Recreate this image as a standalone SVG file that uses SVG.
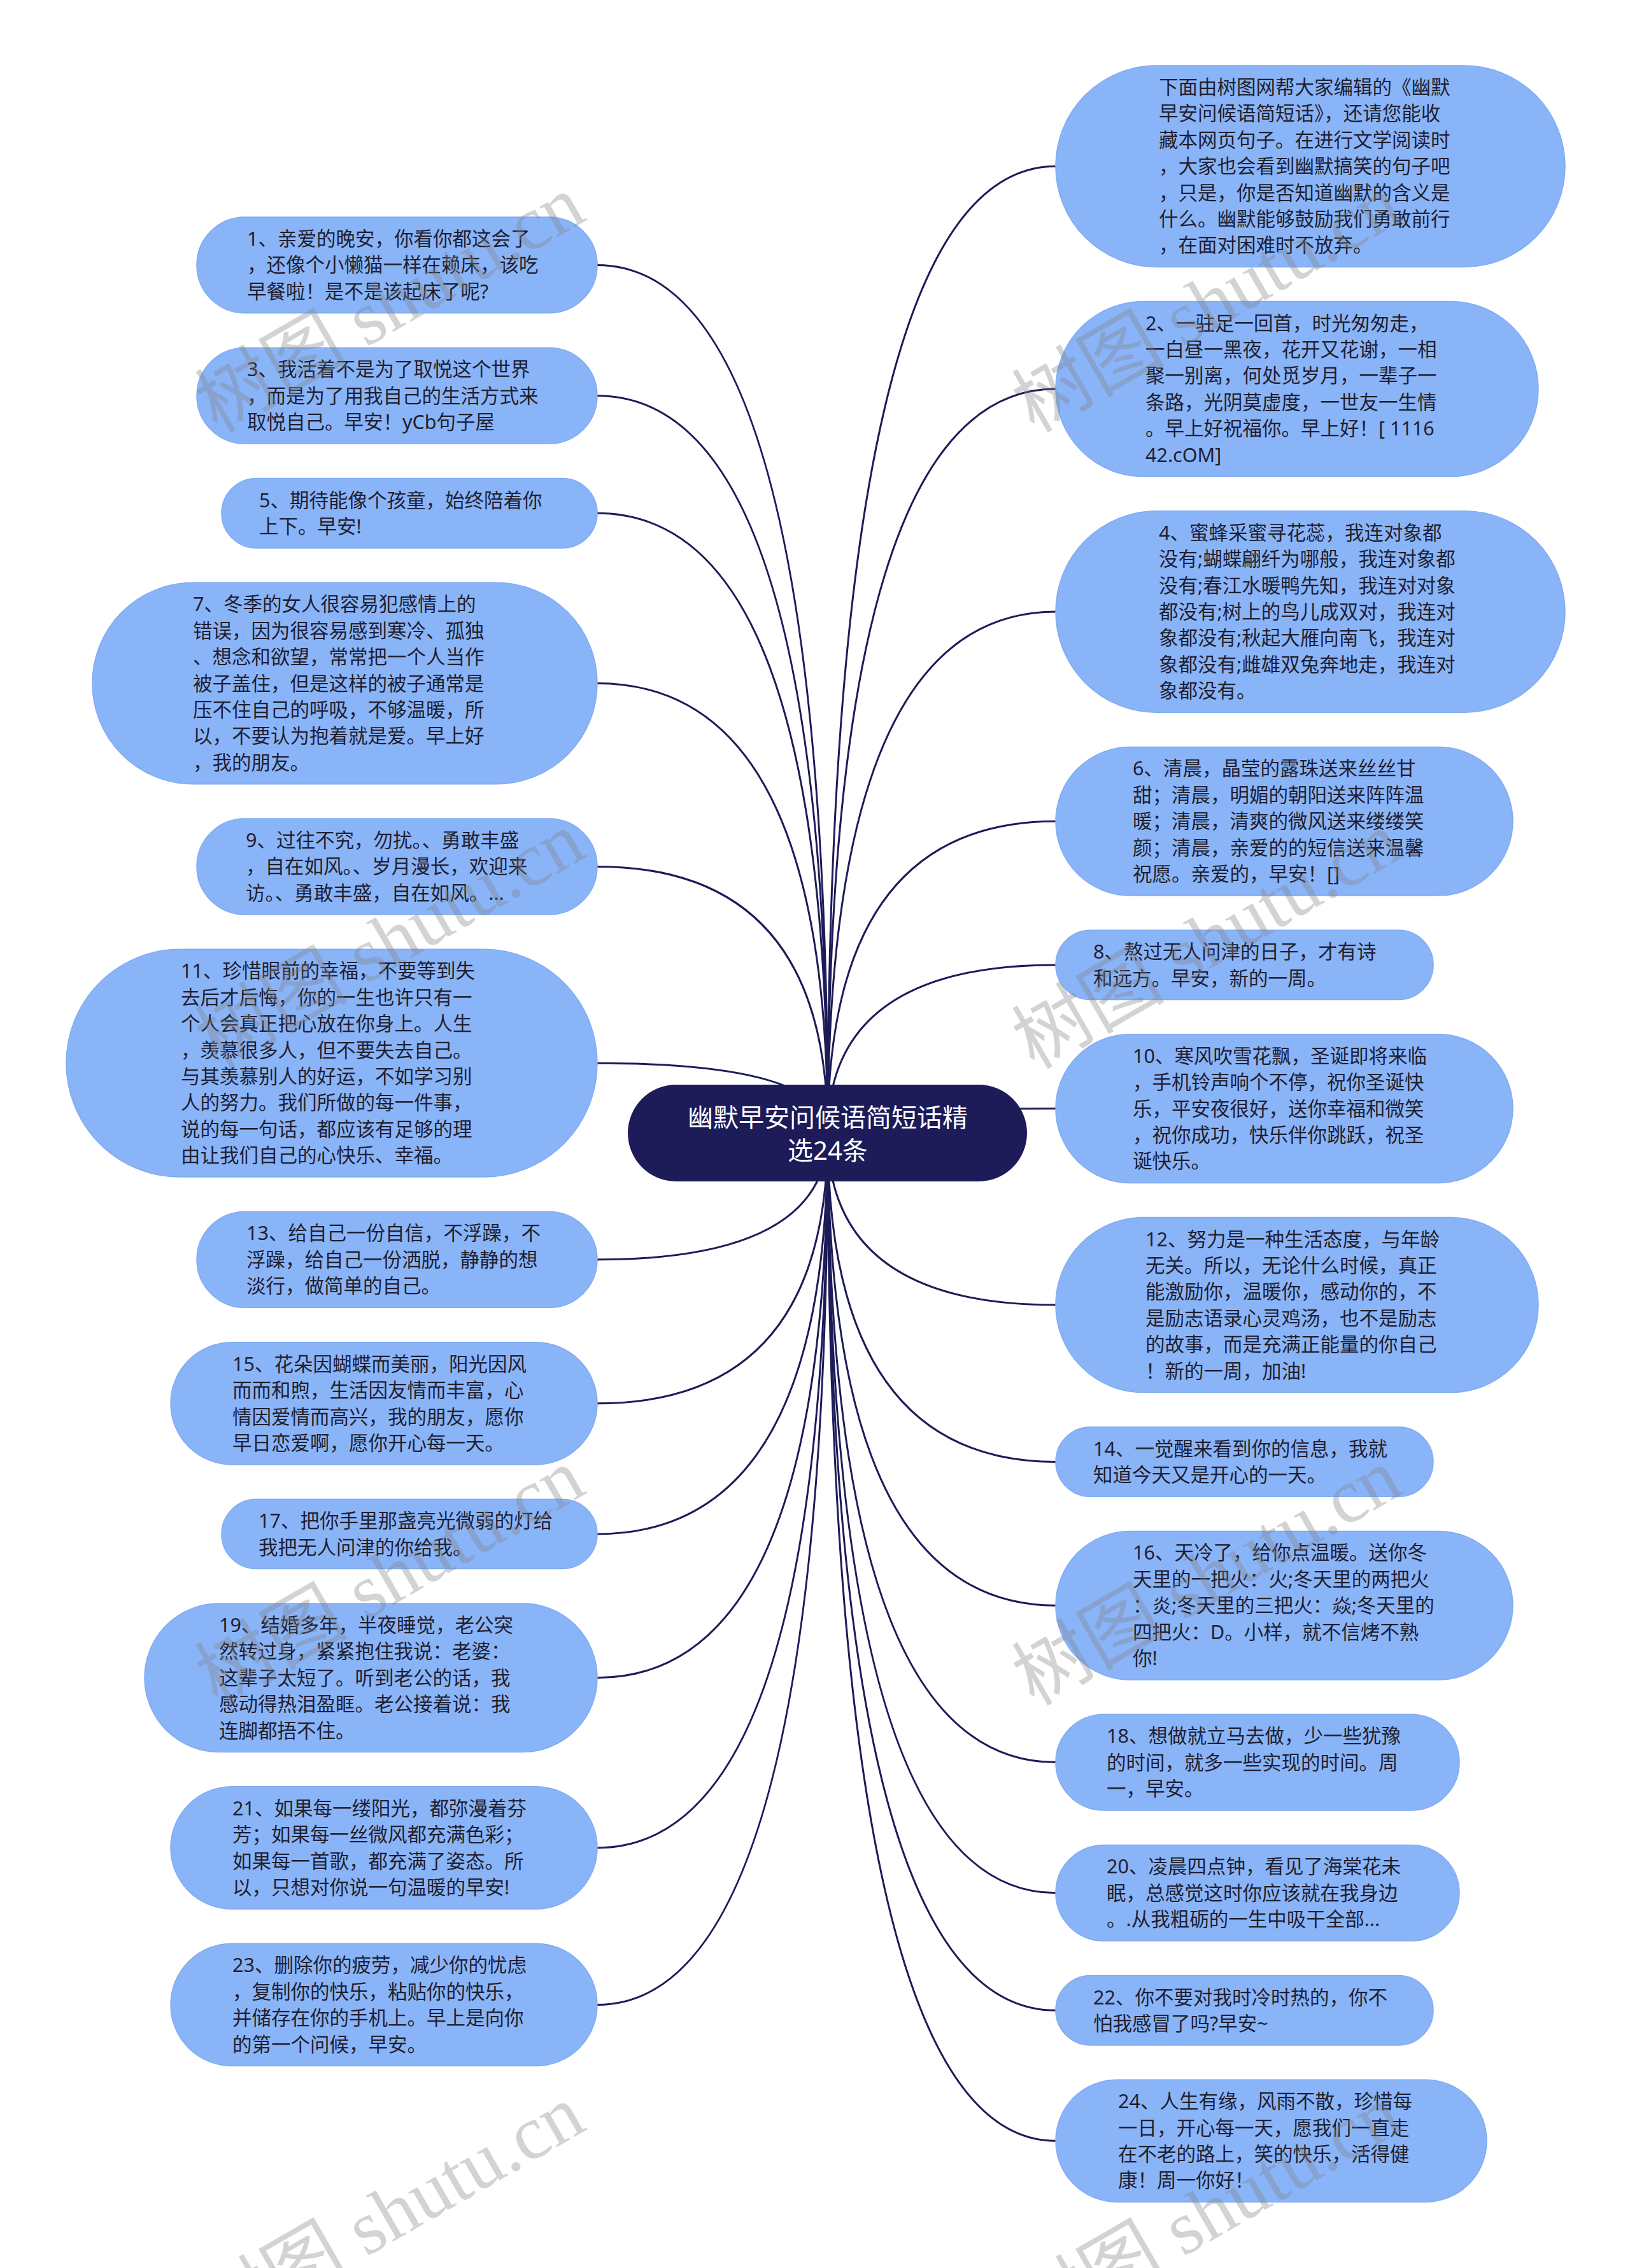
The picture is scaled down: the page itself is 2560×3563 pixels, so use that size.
<svg xmlns="http://www.w3.org/2000/svg" width="2560" height="3563" viewBox="0 0 2560 3563">
<style>
.bg{fill:#ffffff}
.leaf{fill:#8ab4f8;stroke:#7fabf3;stroke-width:1.5}
.root{fill:#1d1b58}
.t{font-family:"Noto Sans","Noto Sans CJK SC",sans-serif;font-size:30.5px;fill:#1f1f30}
.rt{font-family:"Noto Sans","Noto Sans CJK SC",sans-serif;font-size:40px;fill:#ffffff;text-anchor:middle}
.edge{fill:none;stroke:#1d1b58;stroke-width:3}
.wm{font-family:"Liberation Serif","Noto Sans CJK SC",serif;font-size:120px;fill:#808080;fill-opacity:0.35}
</style>
<rect class="bg" x="0" y="0" width="2560" height="3563"/>
<g id="connectors">
<path class="edge" d="M1300,1780 Q1300,416.4 938,416.4"/>
<path class="edge" d="M1300,1780 Q1300,621.7 938,621.7"/>
<path class="edge" d="M1300,1780 Q1300,806.3 938,806.3"/>
<path class="edge" d="M1300,1780 Q1300,1073.5 938,1073.5"/>
<path class="edge" d="M1300,1780 Q1300,1361.4 938,1361.4"/>
<path class="edge" d="M1300,1780 Q1300,1670.2 938,1670.2"/>
<path class="edge" d="M1300,1780 Q1300,1978.8 938,1978.8"/>
<path class="edge" d="M1300,1780 Q1300,2204.8 938,2204.8"/>
<path class="edge" d="M1300,1780 Q1300,2409.9 938,2409.9"/>
<path class="edge" d="M1300,1780 Q1300,2635.7 938,2635.7"/>
<path class="edge" d="M1300,1780 Q1300,2902.9 938,2902.9"/>
<path class="edge" d="M1300,1780 Q1300,3149.4 938,3149.4"/>
<path class="edge" d="M1300,1780 Q1300,261.2 1658,261.2"/>
<path class="edge" d="M1300,1780 Q1300,611.1 1658,611.1"/>
<path class="edge" d="M1300,1780 Q1300,961 1658,961"/>
<path class="edge" d="M1300,1780 Q1300,1290.2 1658,1290.2"/>
<path class="edge" d="M1300,1780 Q1300,1515.9 1658,1515.9"/>
<path class="edge" d="M1300,1780 Q1300,1741.6 1658,1741.6"/>
<path class="edge" d="M1300,1780 Q1300,2050.1 1658,2050.1"/>
<path class="edge" d="M1300,1780 Q1300,2296.5 1658,2296.5"/>
<path class="edge" d="M1300,1780 Q1300,2522.2 1658,2522.2"/>
<path class="edge" d="M1300,1780 Q1300,2768.6 1658,2768.6"/>
<path class="edge" d="M1300,1780 Q1300,2973.8 1658,2973.8"/>
<path class="edge" d="M1300,1780 Q1300,3158.3 1658,3158.3"/>
<path class="edge" d="M1300,1780 Q1300,3363.3 1658,3363.3"/>
</g>
<g id="root">
<rect class="root" x="986" y="1704" width="627" height="152" rx="76"/>
<text class="rt" x="1300" y="1770">幽默早安问候语简短话精</text>
<text class="rt" x="1300" y="1822">选24条</text>
</g>
<g id="n1">
<rect class="leaf" x="309" y="341" width="629" height="150.8" rx="75.4"/>
<text class="t" x="388"><tspan x="388" y="386">1、亲爱的晚安，你看你都这会了</tspan><tspan x="388" y="427.4">，还像个小懒猫一样在赖床，该吃</tspan><tspan x="388" y="468.8">早餐啦！是不是该起床了呢?</tspan></text>
</g>
<g id="n3">
<rect class="leaf" x="309" y="546.3" width="629" height="150.8" rx="75.4"/>
<text class="t"><tspan x="388" y="591.3">3、我活着不是为了取悦这个世界</tspan><tspan x="388" y="632.7">，而是为了用我自己的生活方式来</tspan><tspan x="388" y="674.1">取悦自己。早安！yCb句子屋</tspan></text>
</g>
<g id="n5">
<rect class="leaf" x="348" y="751.6" width="590" height="109.4" rx="54.7"/>
<text class="t"><tspan x="407" y="796.6">5、期待能像个孩童，始终陪着你</tspan><tspan x="407" y="838">上下。早安!</tspan></text>
</g>
<g id="n7">
<rect class="leaf" x="145" y="915.3" width="793" height="316.4" rx="158.2"/>
<text class="t"><tspan x="303" y="960.3">7、冬季的女人很容易犯感情上的</tspan><tspan x="303" y="1001.7">错误，因为很容易感到寒冷、孤独</tspan><tspan x="303" y="1043.1">、想念和欲望，常常把一个人当作</tspan><tspan x="303" y="1084.5">被子盖住，但是这样的被子通常是</tspan><tspan x="303" y="1125.9">压不住自己的呼吸，不够温暖，所</tspan><tspan x="303" y="1167.3">以，不要认为抱着就是爱。早上好</tspan><tspan x="303" y="1208.7">，我的朋友。</tspan></text>
</g>
<g id="n9">
<rect class="leaf" x="309" y="1286" width="629" height="150.8" rx="75.4"/>
<text class="t"><tspan x="386" y="1331">9、过往不究，勿扰。、勇敢丰盛</tspan><tspan x="386" y="1372.4">，自在如风。、岁月漫长，欢迎来</tspan><tspan x="386" y="1413.8">访。、勇敢丰盛，自在如风。...</tspan></text>
</g>
<g id="n11">
<rect class="leaf" x="104" y="1491.3" width="834" height="357.8" rx="178.9"/>
<text class="t"><tspan x="284" y="1536.3">11、珍惜眼前的幸福，不要等到失</tspan><tspan x="284" y="1577.7">去后才后悔，你的一生也许只有一</tspan><tspan x="284" y="1619.1">个人会真正把心放在你身上。人生</tspan><tspan x="284" y="1660.5">，羡慕很多人，但不要失去自己。</tspan><tspan x="284" y="1701.9">与其羡慕别人的好运，不如学习别</tspan><tspan x="284" y="1743.3">人的努力。我们所做的每一件事，</tspan><tspan x="284" y="1784.7">说的每一句话，都应该有足够的理</tspan><tspan x="284" y="1826.1">由让我们自己的心快乐、幸福。</tspan></text>
</g>
<g id="n13">
<rect class="leaf" x="309" y="1903.4" width="629" height="150.8" rx="75.4"/>
<text class="t"><tspan x="387" y="1948.4">13、给自己一份自信，不浮躁，不</tspan><tspan x="387" y="1989.8">浮躁，给自己一份洒脱，静静的想</tspan><tspan x="387" y="2031.2">淡行，做简单的自己。</tspan></text>
</g>
<g id="n15">
<rect class="leaf" x="268" y="2108.7" width="670" height="192.2" rx="96.1"/>
<text class="t"><tspan x="365" y="2153.7">15、花朵因蝴蝶而美丽，阳光因风</tspan><tspan x="365" y="2195.1">而而和煦，生活因友情而丰富，心</tspan><tspan x="365" y="2236.5">情因爱情而高兴，我的朋友，愿你</tspan><tspan x="365" y="2277.9">早日恋爱啊，愿你开心每一天。</tspan></text>
</g>
<g id="n17">
<rect class="leaf" x="348" y="2355.2" width="590" height="109.4" rx="54.7"/>
<text class="t"><tspan x="406" y="2400.2">17、把你手里那盏亮光微弱的灯给</tspan><tspan x="406" y="2441.6">我把无人问津的你给我。</tspan></text>
</g>
<g id="n19">
<rect class="leaf" x="227" y="2518.9" width="711" height="233.6" rx="116.8"/>
<text class="t"><tspan x="344" y="2563.9">19、结婚多年，半夜睡觉，老公突</tspan><tspan x="344" y="2605.3">然转过身，紧紧抱住我说：老婆：</tspan><tspan x="344" y="2646.7">这辈子太短了。听到老公的话，我</tspan><tspan x="344" y="2688.1">感动得热泪盈眶。老公接着说：我</tspan><tspan x="344" y="2729.5">连脚都捂不住。</tspan></text>
</g>
<g id="n21">
<rect class="leaf" x="268" y="2806.8" width="670" height="192.2" rx="96.1"/>
<text class="t"><tspan x="365" y="2851.8">21、如果每一缕阳光，都弥漫着芬</tspan><tspan x="365" y="2893.2">芳；如果每一丝微风都充满色彩；</tspan><tspan x="365" y="2934.6">如果每一首歌，都充满了姿态。所</tspan><tspan x="365" y="2976">以，只想对你说一句温暖的早安!</tspan></text>
</g>
<g id="n23">
<rect class="leaf" x="268" y="3053.3" width="670" height="192.2" rx="96.1"/>
<text class="t"><tspan x="365" y="3098.3">23、删除你的疲劳，减少你的忧虑</tspan><tspan x="365" y="3139.7">，复制你的快乐，粘贴你的快乐，</tspan><tspan x="365" y="3181.1">并储存在你的手机上。早上是向你</tspan><tspan x="365" y="3222.5">的第一个问候，早安。</tspan></text>
</g>
<g id="n0">
<rect class="leaf" x="1658" y="103" width="800" height="316.4" rx="158.2"/>
<text class="t"><tspan x="1820" y="148">下面由树图网帮大家编辑的《幽默</tspan><tspan x="1820" y="189.4">早安问候语简短话》，还请您能收</tspan><tspan x="1820" y="230.8">藏本网页句子。在进行文学阅读时</tspan><tspan x="1820" y="272.2">，大家也会看到幽默搞笑的句子吧</tspan><tspan x="1820" y="313.6">，只是，你是否知道幽默的含义是</tspan><tspan x="1820" y="355">什么。幽默能够鼓励我们勇敢前行</tspan><tspan x="1820" y="396.4">，在面对困难时不放弃。</tspan></text>
</g>
<g id="n2">
<rect class="leaf" x="1658" y="473.6" width="758" height="275" rx="137.5"/>
<text class="t"><tspan x="1799" y="518.6">2、一驻足一回首，时光匆匆走，</tspan><tspan x="1799" y="560">一白昼一黑夜，花开又花谢，一相</tspan><tspan x="1799" y="601.4">聚一别离，何处觅岁月，一辈子一</tspan><tspan x="1799" y="642.8">条路，光阴莫虚度，一世友一生情</tspan><tspan x="1799" y="684.2">。早上好祝福你。早上好！[ 1116</tspan><tspan x="1799" y="725.6">42.cOM]</tspan></text>
</g>
<g id="n4">
<rect class="leaf" x="1658" y="802.8" width="800" height="316.4" rx="158.2"/>
<text class="t"><tspan x="1820" y="847.8">4、蜜蜂采蜜寻花蕊，我连对象都</tspan><tspan x="1820" y="889.2">没有;蝴蝶翩纤为哪般，我连对象都</tspan><tspan x="1820" y="930.6">没有;春江水暖鸭先知，我连对对象</tspan><tspan x="1820" y="972">都没有;树上的鸟儿成双对，我连对</tspan><tspan x="1820" y="1013.4">象都没有;秋起大雁向南飞，我连对</tspan><tspan x="1820" y="1054.8">象都没有;雌雄双兔奔地走，我连对</tspan><tspan x="1820" y="1096.2">象都没有。</tspan></text>
</g>
<g id="n6">
<rect class="leaf" x="1658" y="1173.4" width="718" height="233.6" rx="116.8"/>
<text class="t"><tspan x="1779" y="1218.4">6、清晨，晶莹的露珠送来丝丝甘</tspan><tspan x="1779" y="1259.8">甜；清晨，明媚的朝阳送来阵阵温</tspan><tspan x="1779" y="1301.2">暖；清晨，清爽的微风送来缕缕笑</tspan><tspan x="1779" y="1342.6">颜；清晨，亲爱的的短信送来温馨</tspan><tspan x="1779" y="1384">祝愿。亲爱的，早安！[]</tspan></text>
</g>
<g id="n8">
<rect class="leaf" x="1658" y="1461.2" width="593" height="109.4" rx="54.7"/>
<text class="t"><tspan x="1717" y="1506.2">8、熬过无人问津的日子，才有诗</tspan><tspan x="1717" y="1547.6">和远方。早安，新的一周。</tspan></text>
</g>
<g id="n10">
<rect class="leaf" x="1658" y="1624.8" width="718" height="233.6" rx="116.8"/>
<text class="t"><tspan x="1779" y="1669.8">10、寒风吹雪花飘，圣诞即将来临</tspan><tspan x="1779" y="1711.2">，手机铃声响个不停，祝你圣诞快</tspan><tspan x="1779" y="1752.6">乐，平安夜很好，送你幸福和微笑</tspan><tspan x="1779" y="1794">，祝你成功，快乐伴你跳跃，祝圣</tspan><tspan x="1779" y="1835.4">诞快乐。</tspan></text>
</g>
<g id="n12">
<rect class="leaf" x="1658" y="1912.6" width="758" height="275" rx="137.5"/>
<text class="t"><tspan x="1799" y="1957.6">12、努力是一种生活态度，与年龄</tspan><tspan x="1799" y="1999">无关。所以，无论什么时候，真正</tspan><tspan x="1799" y="2040.4">能激励你，温暖你，感动你的，不</tspan><tspan x="1799" y="2081.8">是励志语录心灵鸡汤，也不是励志</tspan><tspan x="1799" y="2123.2">的故事，而是充满正能量的你自己</tspan><tspan x="1799" y="2164.6">！新的一周，加油!</tspan></text>
</g>
<g id="n14">
<rect class="leaf" x="1658" y="2241.8" width="593" height="109.4" rx="54.7"/>
<text class="t"><tspan x="1717" y="2286.8">14、一觉醒来看到你的信息，我就</tspan><tspan x="1717" y="2328.2">知道今天又是开心的一天。</tspan></text>
</g>
<g id="n16">
<rect class="leaf" x="1658" y="2405.4" width="718" height="233.6" rx="116.8"/>
<text class="t"><tspan x="1779" y="2450.4">16、天冷了，给你点温暖。送你冬</tspan><tspan x="1779" y="2491.8">天里的一把火：火;冬天里的两把火</tspan><tspan x="1779" y="2533.2">：炎;冬天里的三把火：焱;冬天里的</tspan><tspan x="1779" y="2574.6">四把火：D。小样，就不信烤不熟</tspan><tspan x="1779" y="2616">你!</tspan></text>
</g>
<g id="n18">
<rect class="leaf" x="1658" y="2693.2" width="634" height="150.8" rx="75.4"/>
<text class="t"><tspan x="1738" y="2738.2">18、想做就立马去做，少一些犹豫</tspan><tspan x="1738" y="2779.6">的时间，就多一些实现的时间。周</tspan><tspan x="1738" y="2821">一，早安。</tspan></text>
</g>
<g id="n20">
<rect class="leaf" x="1658" y="2898.4" width="634" height="150.8" rx="75.4"/>
<text class="t"><tspan x="1738" y="2943.4">20、凌晨四点钟，看见了海棠花未</tspan><tspan x="1738" y="2984.8">眠，总感觉这时你应该就在我身边</tspan><tspan x="1738" y="3026.2">。.从我粗砺的一生中吸干全部...</tspan></text>
</g>
<g id="n22">
<rect class="leaf" x="1658" y="3103.6" width="593" height="109.4" rx="54.7"/>
<text class="t"><tspan x="1717" y="3148.6">22、你不要对我时冷时热的，你不</tspan><tspan x="1717" y="3190">怕我感冒了吗?早安~</tspan></text>
</g>
<g id="n24">
<rect class="leaf" x="1658" y="3267.2" width="677" height="192.2" rx="96.1"/>
<text class="t"><tspan x="1756" y="3312.2">24、人生有缘，风雨不散，珍惜每</tspan><tspan x="1756" y="3353.6">一日，开心每一天，愿我们一直走</tspan><tspan x="1756" y="3395">在不老的路上，笑的快乐，活得健</tspan><tspan x="1756" y="3436.4">康！周一你好！</tspan></text>
</g>
<g id="watermark">
<text class="wm" transform="translate(341,681) rotate(-30)">树图 shutu.cn</text>
<text class="wm" transform="translate(1624,681) rotate(-30)">树图 shutu.cn</text>
<text class="wm" transform="translate(341,1681) rotate(-30)">树图 shutu.cn</text>
<text class="wm" transform="translate(1624,1681) rotate(-30)">树图 shutu.cn</text>
<text class="wm" transform="translate(341,2681) rotate(-30)">树图 shutu.cn</text>
<text class="wm" transform="translate(1624,2681) rotate(-30)">树图 shutu.cn</text>
<text class="wm" transform="translate(341,3681) rotate(-30)">树图 shutu.cn</text>
<text class="wm" transform="translate(1624,3681) rotate(-30)">树图 shutu.cn</text>
</g>
</svg>
